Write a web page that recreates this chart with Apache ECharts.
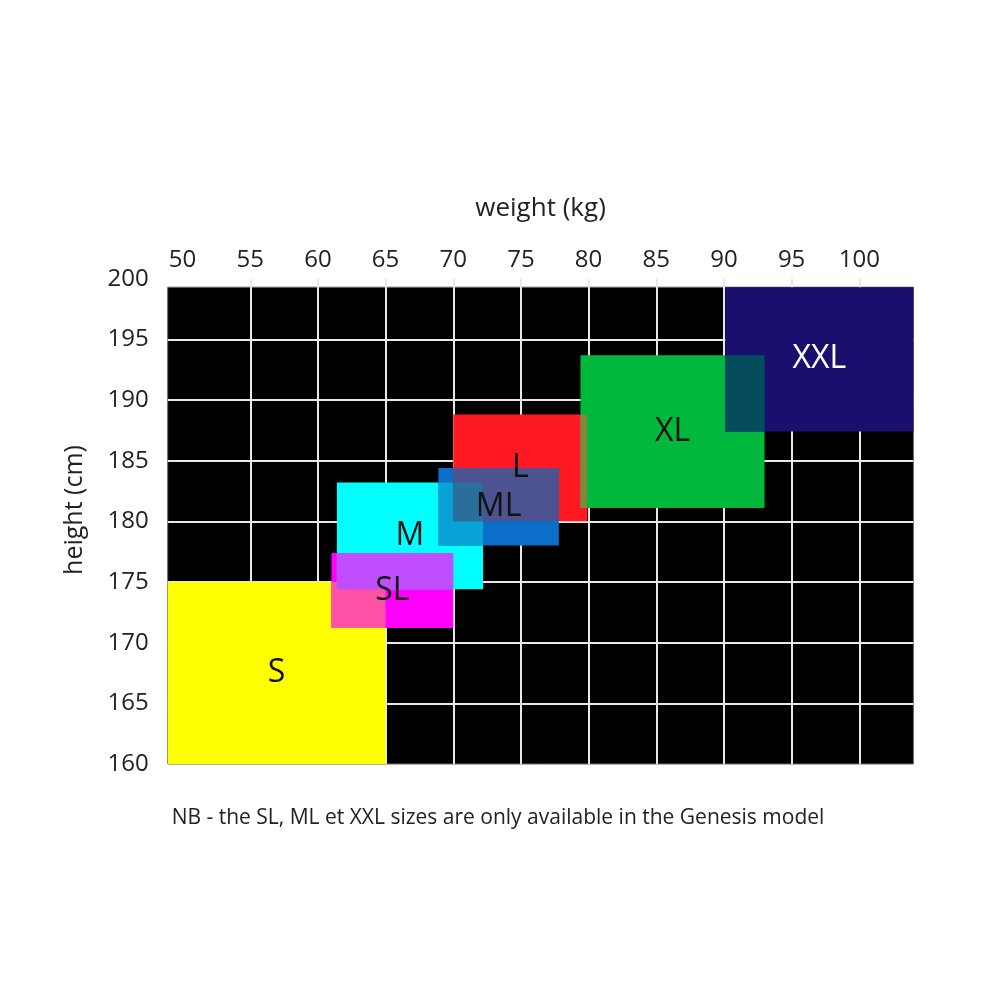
<!DOCTYPE html>
<html><head><meta charset="utf-8">
<script src="https://cdn.jsdelivr.net/npm/echarts@6/dist/echarts.min.js"></script>
<style>html,body{margin:0;padding:0;background:#fff}#c{width:1000px;height:1000px}</style>
</head><body><div id="c"></div>
<script>
// ---- data ----
const sizes = ['S', 'SL', 'M', 'L', 'ML', 'XL', 'XXL'];
const weightMin = [48.9, 61.0, 61.4, 70.0, 68.9, 79.4, 90.1];
const weightMax = [65.0, 70.0, 72.2, 79.9, 77.8, 93.0, 104.0];
const heightMin = [160.0, 171.2, 174.4, 180.0, 178.0, 181.1, 187.4];
const heightMax = [175.0, 177.4, 183.2, 188.8, 184.4, 193.7, 199.3];
const weightRange = [48.9, 104];
const heightRange = [160, 199.3];
const weightTicks = [50, 55, 60, 65, 70, 75, 80, 85, 90, 95, 100];
const heightTicks = [160, 165, 170, 175, 180, 185, 190, 195, 200];
const overlapSets = [['S', 'SL'], ['M', 'SL'], ['M', 'ML'], ['L', 'ML'], ['M', 'L', 'ML'], ['L', 'XL'], ['XL', 'XXL']];

// ---- styles ----
const sizeColors = ['#ffff00', '#ff00ff', '#00ffff', '#ff1923', '#0b6ec8', '#00b93c', '#190f6e'];
const labelColors = ['#111111', '#111111', '#111111', '#111111', '#111111', '#111111', '#ffffff'];
const overlapColors = ['#fd52a6', '#c04eff', '#08a2d6', '#4d5290', '#2a6f9c', '#7d883c', '#044c5c'];
const FONT = '"Open Sans", "Noto Sans", sans-serif';

const rectData = sizes.map((s, i) => [weightMin[i], weightMax[i], heightMin[i], heightMax[i], i]);
const overlapData = overlapSets.map((set, k) => {
  const idx = set.map(s => sizes.indexOf(s));
  return [
    Math.max(...idx.map(i => weightMin[i])),
    Math.min(...idx.map(i => weightMax[i])),
    Math.max(...idx.map(i => heightMin[i])),
    Math.min(...idx.map(i => heightMax[i])),
    k
  ];
});
const bgData = [[weightRange[0], weightRange[1], heightRange[0], heightRange[1], 0]];

function rectRenderer(colorList, extraStyle) {
  return function (params, api) {
    const p0 = api.coord([api.value(0), api.value(3)]);
    const p1 = api.coord([api.value(1), api.value(2)]);
    return {
      type: 'rect',
      shape: { x: p0[0], y: p0[1], width: p1[0] - p0[0], height: p1[1] - p0[1] },
      style: Object.assign({ fill: colorList[api.value(4)] }, extraStyle || {})
    };
  };
}

const chart = echarts.init(document.getElementById('c'), null, { renderer: 'canvas' });
chart.setOption({
  backgroundColor: '#ffffff',
  animation: false,
  grid: { left: 167.7, right: 86.6, top: 278.7, bottom: 236 },
  xAxis: {
    type: 'value', position: 'top', z: 3,
    min: weightRange[0], max: weightRange[1],
    name: 'weight (kg)', nameLocation: 'middle', nameGap: 57,
    nameTextStyle: { fontFamily: FONT, fontSize: 26, color: '#222' },
    axisLine: { show: false },
    axisTick: { show: false, customValues: weightTicks.slice(1) },
    axisLabel: { customValues: weightTicks, fontFamily: FONT, fontSize: 24, color: '#222', margin: 7 },
    splitLine: { show: true, lineStyle: { color: '#e8e8e8', width: 2 } }
  },
  yAxis: {
    type: 'value', z: 3,
    min: heightTicks[0], max: heightTicks[heightTicks.length - 1],
    axisLine: { show: false },
    axisTick: { show: false, customValues: heightTicks.slice(1, -1) },
    axisLabel: { customValues: heightTicks, fontFamily: FONT, fontSize: 24, color: '#222', margin: 19 },
    splitLine: { show: true, lineStyle: { color: '#e8e8e8', width: 2 } }
  },
  graphic: [
    { type: 'text', x: 75, y: 510, rotation: Math.PI / 2, z: 10,
      style: { text: 'height (cm)', fill: '#222', font: '25px ' + FONT, align: 'center', verticalAlign: 'middle' } },
    { type: 'text', x: 498, y: 818, z: 10,
      style: { text: 'NB - the SL, ML et XXL sizes are only available in the Genesis model', fill: '#222', font: '21px ' + FONT, align: 'center', verticalAlign: 'middle' } }
  ],
  series: [
    { type: 'custom', name: 'background', z: 1, silent: true, data: bgData,
      encode: { x: [0, 1], y: [2, 3] },
      renderItem: rectRenderer(['#000000'], { stroke: '#666', lineWidth: 1 }) },
    { type: 'custom', name: 'sizes', z: 5, silent: true, data: rectData,
      encode: { x: [0, 1], y: [2, 3] },
      renderItem: rectRenderer(sizeColors) },
    { type: 'custom', name: 'overlaps', z: 6, silent: true, data: overlapData,
      encode: { x: [0, 1], y: [2, 3] },
      renderItem: rectRenderer(overlapColors) },
    { type: 'custom', name: 'labels', z: 7, silent: true, data: rectData,
      encode: { x: [0, 1], y: [2, 3] },
      renderItem: function (params, api) {
        const i = api.value(4);
        const c = api.coord([(api.value(0) + api.value(1)) / 2, (api.value(2) + api.value(3)) / 2]);
        return {
          type: 'text', x: c[0], y: c[1],
          style: { text: sizes[i], fill: labelColors[i], font: '32px ' + FONT, align: 'center', verticalAlign: 'middle' }
        };
      } }
  ]
});
</script>
</body></html>
